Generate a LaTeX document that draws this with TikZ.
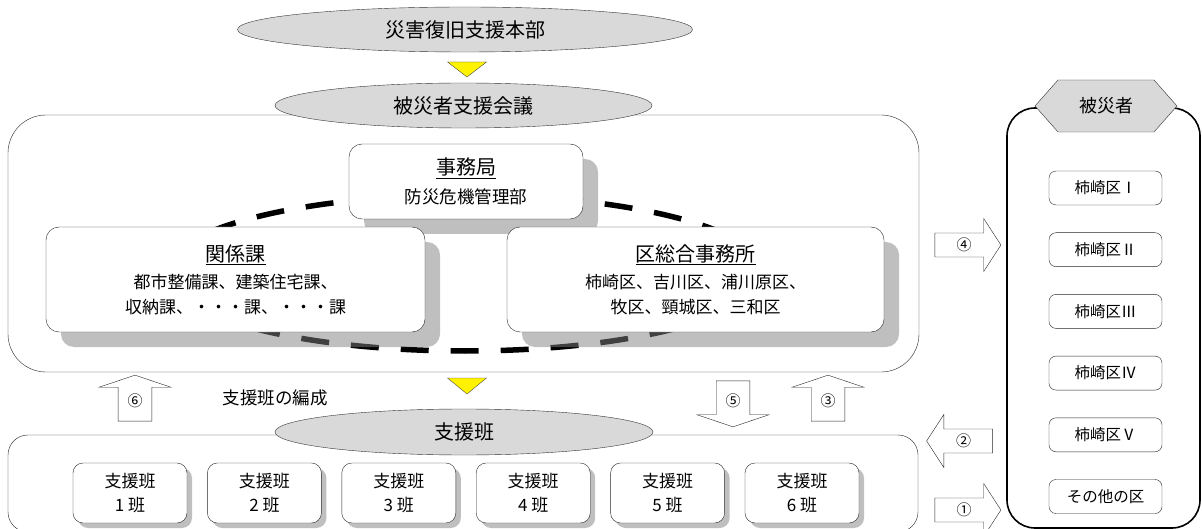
\documentclass[tikz,border=0pt]{standalone}
\usepackage{fontspec}
\setmainfont{Noto Sans CJK JP}
\usepackage{tikz}
\usetikzlibrary{positioning,calc,shapes.geometric,shapes.symbols,shapes.arrows,shadows}

\newcommand{\headfont}{\fontsize{20pt}{24pt}\selectfont}
\newcommand{\bodyfont}{\fontsize{17pt}{25pt}\selectfont}

\tikzset{
  oval/.style={ellipse, draw=black!80, fill=black!15, inner sep=0pt, font=\headfont},
  panel/.style={draw=black!85, fill=white, rounded corners=13pt, align=center, inner sep=0pt, font=\bodyfont,
    drop shadow={shadow xshift=15pt, shadow yshift=-15pt, opacity=0.5, fill=black!50}},
  teambox/.style={draw=black!85, fill=white, rounded corners=10pt, minimum width=114pt, minimum height=60pt,
    align=center, inner sep=0pt, font=\fontsize{17pt}{24pt}\selectfont,
    drop shadow={shadow xshift=5pt, shadow yshift=-5pt, opacity=0.5, fill=black!50}},
  areabox/.style={draw=black!85, fill=white, rounded corners=7pt, minimum width=113pt, minimum height=34pt,
    inner sep=0pt, font=\fontsize{15.5pt}{18pt}\selectfont},
  flow/.style={single arrow, draw=black!85, fill=white, inner sep=4pt, font=\fontsize{15pt}{16pt}\selectfont},
  upflow/.style={flow, inner sep=8.5pt, minimum height=46pt, minimum width=72pt,
    single arrow head extend=18.5pt, single arrow tip angle=143},
  sideflow/.style={flow, minimum height=66pt, minimum width=53pt,
    single arrow head extend=13.5pt, single arrow tip angle=114},
  marker/.style={draw=black!70, fill=yellow},
}

\begin{document}
\begin{tikzpicture}[x=1pt, y=-1pt]
        \useasboundingbox (0,0) rectangle (1202,529);

        % Draw the meeting frame and the dashed link
        \node[draw=black!85, rounded corners=38pt, minimum width=911pt, minimum height=257pt] (frame) at (463.5,243.5) {};
        \draw[line width=5.5pt, dash pattern=on 28pt off 22pt, dash phase=45pt] (465,273) ellipse [x radius=300pt, y radius=78pt];

        % Draw the headquarters and the council
        \node[oval, minimum width=455pt, minimum height=45pt] (hq) at (465,29.5) {災害復旧支援本部};
        \node[oval, minimum width=377pt, minimum height=45pt] (council) at (463.5,105.5) {被災者支援会議};
        \coordinate (down1) at (467,62);
        \draw[marker] ([xshift=-19.5pt]down1) -- ([xshift=19.5pt]down1) -- ([yshift=-15pt]down1) -- cycle;

        % Draw the secretariat and the two groups
        \node[panel, minimum width=234pt, minimum height=75pt] (office) at (466,181.5)
          {{\headfont\underline{事務局}}\\[4pt]{\fontsize{17.5pt}{20pt}\selectfont 防災危機管理部}};
        \node[panel, minimum width=379pt, minimum height=105pt] (depts) at (235.5,279.5)
          {{\headfont\underline{関係課}}\\[2pt]都市整備課、建築住宅課、\\収納課、・・・課、・・・課};
        \node[panel, minimum width=377pt, minimum height=105pt] (wards) at (695.5,279.5)
          {{\headfont\underline{区総合事務所}}\\[2pt]柿崎区、吉川区、浦川原区、\\牧区、頸城区、三和区};

        % Draw the support teams
        \node[draw=black!85, rounded corners=20pt, minimum width=910pt, minimum height=97pt] (teams) at (463,483.5) {};
        \node[oval, minimum width=378pt, minimum height=46pt] (teamhead) at (464,432) {支援班};
        \foreach \i in {1,...,6}
          \node[teambox] (team\i) at ({130+134.4*(\i-1)},493) {支援班\\\i\ 班};

        \coordinate (down2) at (467,378);
        \draw[marker] ([xshift=-19.5pt]down2) -- ([xshift=19.5pt]down2) -- ([yshift=-16pt]down2) -- cycle;
        \node[font=\fontsize{17.5pt}{20pt}\selectfont] (note) at (275,398) {支援班の編成};

        % Draw the flow arrows
        \node[upflow, shape border rotate=90] (a6) at (135,401) {⑥};
        \node[upflow, shape border rotate=270] (a5) at (733,401) {⑤};
        \node[upflow, shape border rotate=90] (a3) at (828,401) {③};
        \node[sideflow] (a4) at (964,245) {④};
        \node[sideflow, shape border rotate=180] (a2) at (963.5,441) {②};
        \node[sideflow] (a1) at (964,510) {①};

        % Draw the victims side
        \node[draw=black, line width=1.6pt, rounded corners=28pt, minimum width=193pt, minimum height=420pt] (victims) at (1103.5,318) {};
        \node[signal, signal to=east and west, signal pointer angle=97, draw=black!80, fill=black!15,
          minimum width=142pt, minimum height=52pt, inner sep=0pt, font=\fontsize{18pt}{20pt}\selectfont] (vhead) at (1106,106) {被災者};
        \foreach \t [count=\k from 0] in {柿崎区Ⅰ,柿崎区Ⅱ,柿崎区Ⅲ,柿崎区Ⅳ,柿崎区Ⅴ,その他の区}
          \node[areabox] (area\k) at (1105.5,{188+61.7*\k}) {\t};
\end{tikzpicture}
\end{document}
